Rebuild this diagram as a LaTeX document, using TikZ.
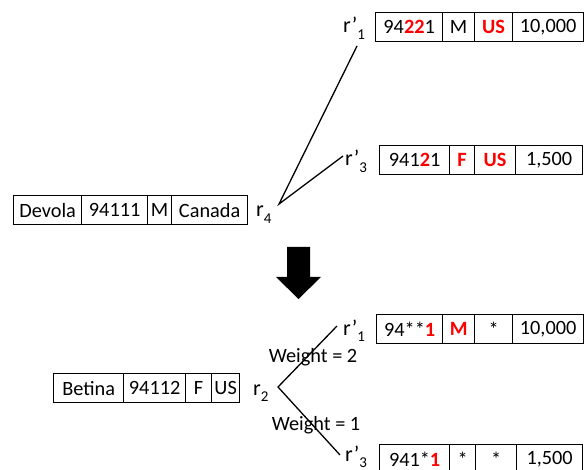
\documentclass[tikz,border=0pt]{standalone}
\usepackage{fontspec}
\setmainfont{Carlito}
\newcommand\hl[1]{\textcolor{red}{\textbf{#1}}}
\newcommand\rlab[2]{r#1\raisebox{-6.5pt}{\fontsize{15}{15}\selectfont #2}}
\begin{document}
\begin{tikzpicture}[x=1pt,y=-1pt,
  cell/.style={draw, line width=1.3pt, minimum height=29pt, inner sep=0pt,
    anchor=north west, font=\fontsize{20.3}{22}\selectfont},
  lab/.style={font=\fontsize{22}{24}\selectfont, inner sep=0pt, anchor=base west},
  wlab/.style={font=\fontsize{20.3}{22}\selectfont, inner sep=0pt},
  link/.style={line width=1.3pt}]
\useasboundingbox (0,0) rectangle (586,470);

% ---- upper part: record r4 and its two candidates ----
\node[cell, minimum width=67pt] (a1) at (375,12) {94\hl{22}1};
\node[cell, minimum width=32pt] (a2) at (442,12) {M};
\node[cell, minimum width=38pt] (a3) at (474,12) {\hl{US}};
\node[cell, minimum width=71pt] (a4) at (512,12) {10,000};
\node[lab] (la) at (343,33) {\rlab{’}{1}};

\node[cell, minimum width=70pt] (b1) at (379,145) {941\hl{2}1};
\node[cell, minimum width=25pt] (b2) at (449,145) {\hl{F}};
\node[cell, minimum width=41pt] (b3) at (474,145) {\hl{US}};
\node[cell, minimum width=67pt] (b4) at (515,145) {1,500};
\node[lab] (lb) at (345,166) {\rlab{’}{3}};

\node[cell, minimum width=68pt] (c1) at (13,195) {Devola};
\node[cell, minimum width=66pt] (c2) at (81,195) {94111};
\node[cell, minimum width=24pt] (c3) at (147,195) {M};
\node[cell, minimum width=76pt] (c4) at (171,195) {Canada};
\node[lab] (lc) at (256,217) {\rlab{}{4}};

\coordinate (apexA) at (279,204);
\coordinate (endA1) at (357,46);
\coordinate (endA3) at (343,156);
\draw[link] (endA1) -- (apexA) -- (endA3);

% ---- arrow ----
\fill (287,247) -- (310,247) -- (310,277) -- (321,277) -- (298.5,299)
  -- (276,277) -- (287,277) -- cycle;

% ---- lower part: record r2 and its generalised candidates ----
\node[cell, minimum width=66pt] (d1) at (376,314) {94**\hl{1}};
\node[cell, minimum width=32pt] (d2) at (442,314) {\hl{M}};
\node[cell, minimum width=38pt] (d3) at (474,314) {*};
\node[cell, minimum width=71pt] (d4) at (512,314) {10,000};
\node[lab] (ld) at (343,335) {\rlab{’}{1}};

\node[cell, minimum width=70pt] (e1) at (379,444) {941*\hl{1}};
\node[cell, minimum width=26pt] (e2) at (449,444) {*};
\node[cell, minimum width=41pt] (e3) at (475,444) {*};
\node[cell, minimum width=66pt] (e4) at (516,444) {1,500};
\node[lab] (le) at (345,461) {\rlab{’}{3}};

\node[cell, minimum width=70pt] (f1) at (53,373) {Betina};
\node[cell, minimum width=62pt] (f2) at (123,373) {94112};
\node[cell, minimum width=26pt] (f3) at (185,373) {F};
\node[cell, minimum width=28pt] (f4) at (211,373) {US};
\node[lab] (lf) at (253,395) {\rlab{}{2}};

\coordinate (apexB) at (278,387);
\coordinate (endB1) at (337,326);
\coordinate (endB3) at (340,455);
\draw[link] (endB1) -- (apexB) -- (endB3);

\node[wlab] (w2) at (313,357) {Weight = 2};
\node[wlab] (w1) at (316,425) {Weight = 1};
\end{tikzpicture}
\end{document}
